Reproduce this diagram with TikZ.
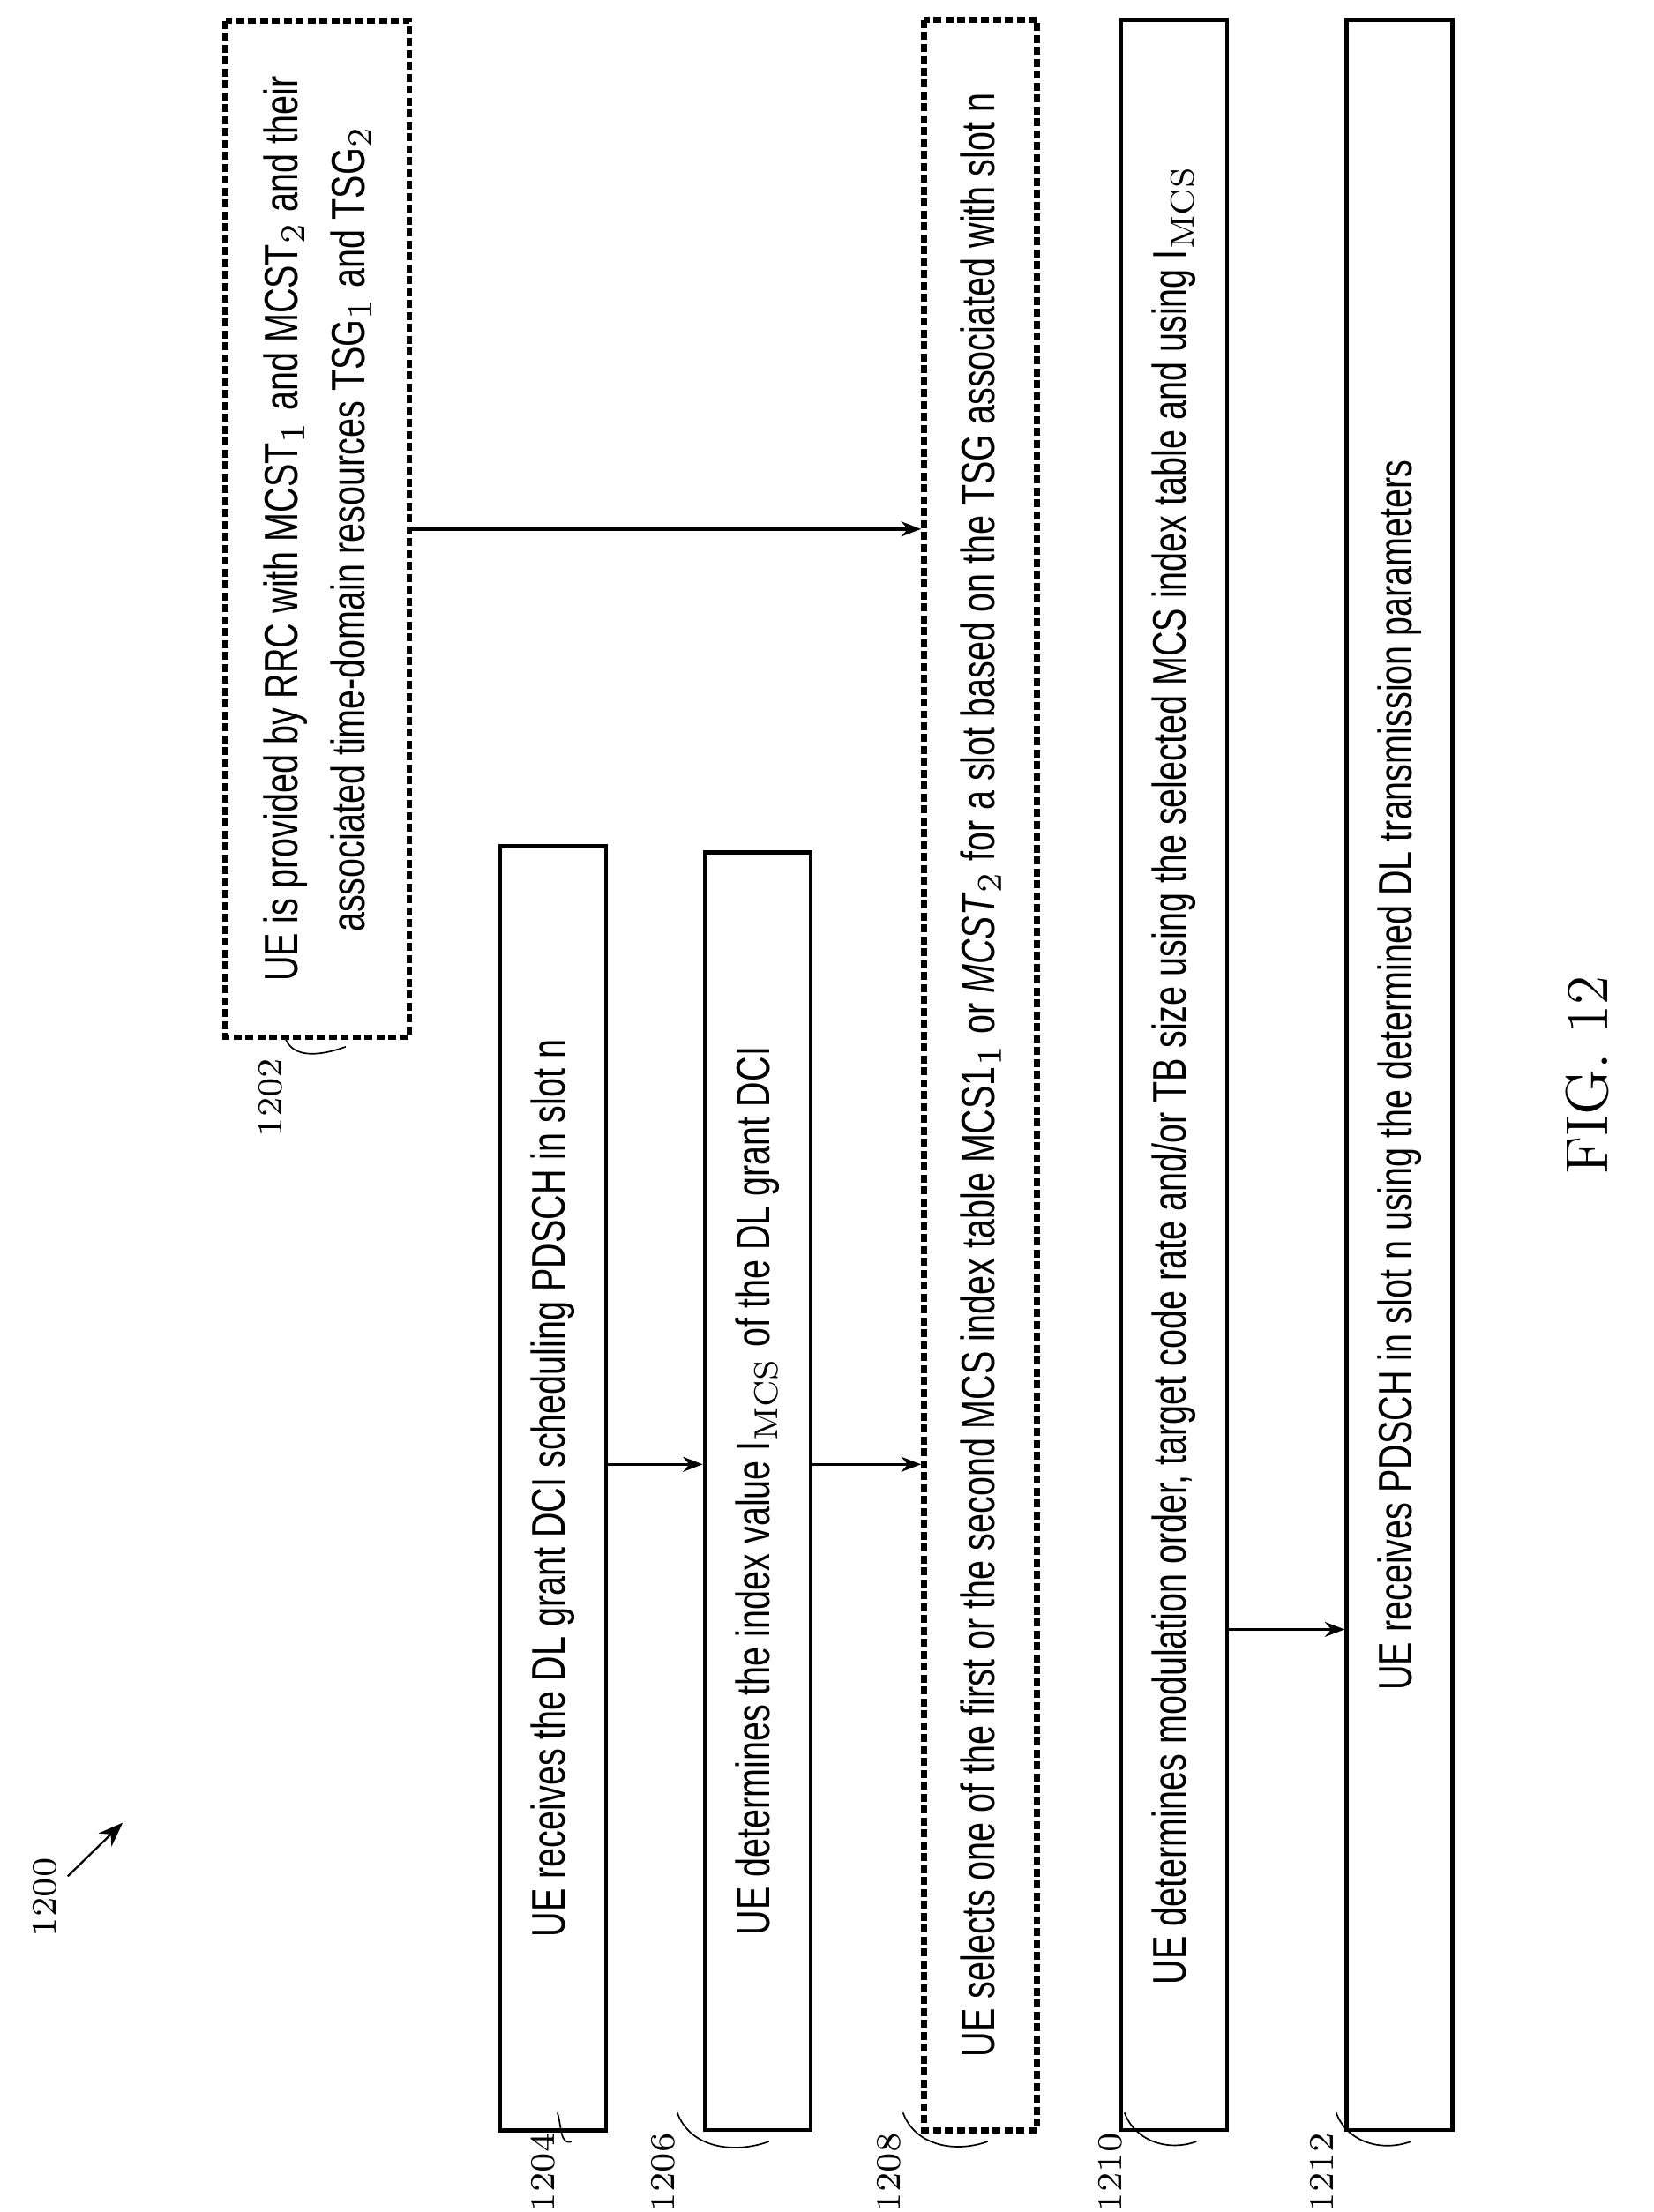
\documentclass[tikz,border=0pt]{standalone}
\usepackage{fontspec}
\setsansfont{Liberation Sans}[FakeStretch=0.74]
\usetikzlibrary{arrows.meta,calc}
\tikzset{%
  stepbox/.style = {draw, line width=0.8pt, rotate=90, font=\sffamily\fontsize{9.5}{13.5}\selectfont,%
                   align=center, inner sep=2pt},%
  optbox/.style  = {stepbox, dash pattern=on 1.6pt off 0.8pt, line width=1.2pt},%
  lbl/.style     = {rotate=90, font=\fontsize{7}{8}\selectfont},%
  flow/.style    = {-{Stealth[length=4pt]}, line width=0.6pt},%
  lead/.style    = {line width=0.3pt}%
}
\begin{document}
\begin{tikzpicture}[x=0.01cm, y=-0.01cm]
  \useasboundingbox (0,0) rectangle (1172,1568);
  % steps
  \node[optbox, minimum width=7.2cm, minimum height=1.3cm] (b1202) at (225,375)
    {UE is provided by RRC with MCST$_1$ and MCST$_2$ and their\\
     associated time-domain resources TSG$_1$ and TSG$_2$};
  \node[stepbox, minimum width=9.1cm, minimum height=0.75cm] (b1204) at (392,1055)
    {UE receives the DL grant DCI scheduling PDSCH in slot n};
  \node[stepbox, minimum width=9.05cm, minimum height=0.75cm] (b1206) at (537,1057)
    {UE determines the index value I$_{\mathrm{MCS}}$ of the DL grant DCI};
  \node[optbox, minimum width=14.95cm, minimum height=0.8cm] (b1208) at (695,762)
    {UE selects one of the first or the second MCS index table MCS1$_1$ or \textit{MCST}$_2$ for a slot based on the TSG associated with slot n};
  \node[stepbox, minimum width=14.95cm, minimum height=0.75cm] (b1210) at (832,762)
    {UE determines modulation order, target code rate and/or TB size using the selected MCS index table and using I$_{\mathrm{MCS}}$};
  \node[stepbox, minimum width=14.95cm, minimum height=0.75cm] (b1212) at (992,762)
    {UE receives PDSCH in slot n using the determined DL transmission parameters};
  % connectors
  \coordinate (y1) at (0,1038);
  \coordinate (y2) at (0,1155);
  \draw[flow] (b1202.south) -- (b1208.north |- b1202.south);
  \draw[flow] (b1204.south |- y1) -- (b1206.north |- y1);
  \draw[flow] (b1206.south |- y1) -- (b1208.north |- y1);
  \draw[flow] (b1210.south |- y2) -- (b1212.north |- y2);
  % labels
  \node[lbl] (l1202) at (192,778) {1202};
  \node[lbl] (l1204) at (385,1540) {1204};
  \node[lbl] (l1206) at (470,1540) {1206};
  \node[lbl] (l1208) at (630,1540) {1208};
  \node[lbl] (l1210) at (787,1540) {1210};
  \node[lbl] (l1212) at (937,1540) {1212};
  \draw[lead] (l1202.east) ++(10,-2) to[out=-70,in=200] (245,742);
  \draw[lead] (l1204.east) ++(10,-2) to[out=-70,in=200] (405,1518);
  \draw[lead] (l1206.east) ++(10,-2) to[out=-70,in=200] (545,1518);
  \draw[lead] (l1208.east) ++(10,-2) to[out=-70,in=200] (700,1518);
  \draw[lead] (l1210.east) ++(10,-2) to[out=-70,in=200] (848,1518);
  \draw[lead] (l1212.east) ++(10,-2) to[out=-70,in=200] (1000,1518);
  \node[lbl] (l1200) at (32,1345) {1200};
  \coordinate (t1200) at (87,1292);
  \draw[-{Stealth[length=5pt]}, line width=0.4pt] (48,1330) -- (t1200);
  \node[lbl, font=\fontsize{12}{14}\selectfont] (fig) at (1125,762) {FIG. 12};
\end{tikzpicture}
\end{document}
